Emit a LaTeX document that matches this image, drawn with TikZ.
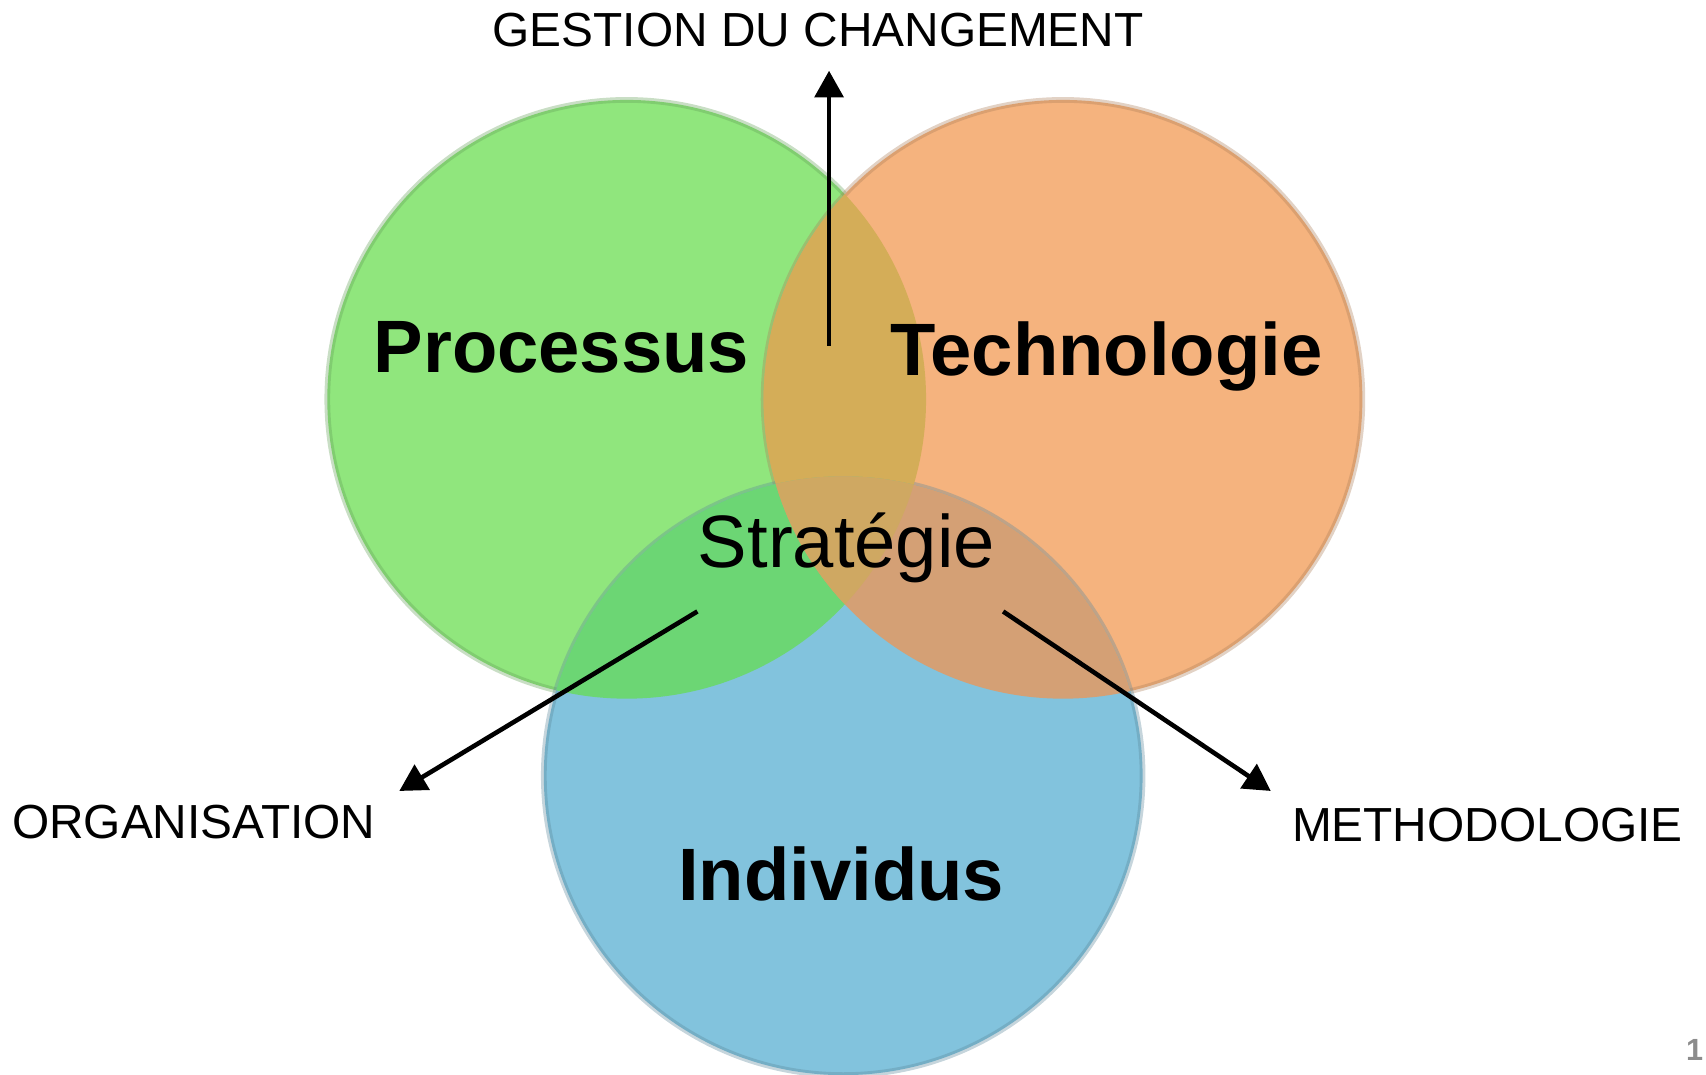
\documentclass[tikz,border=0pt]{standalone}
\usepackage{fontspec}
\setmainfont{Liberation Sans}
\usetikzlibrary{arrows.meta}

\definecolor{procgreen}{HTML}{90E67D}
\definecolor{techorange}{HTML}{F5B37E}
\definecolor{indblue}{HTML}{82C3DD}
\definecolor{gtmix}{HTML}{D4AD58}
\definecolor{gimix}{HTML}{6CD674}
\definecolor{timix}{HTML}{D4A075}
\definecolor{allmix}{HTML}{CFA862}

\begin{document}
\begin{tikzpicture}[x=0.01cm,y=-0.01cm,
	disc/.style={circle,minimum size=5.5cm,inner sep=0pt,line width=1.5pt,draw opacity=0.35},
	bigword/.style={anchor=base,font=\fontsize{19.4}{23}\selectfont\bfseries},
	midword/.style={anchor=base,font=\fontsize{19.4}{23}\selectfont},
	smallword/.style={anchor=base,font=\fontsize{12.5}{15}\selectfont},
	link/.style={line width=1.2pt,-{Triangle[width=7.5pt,length=7pt]}}]
\useasboundingbox (0,0) rectangle (1568,988);

	\node [disc,fill=procgreen,draw=procgreen!70!black] (P) at (576,367) {};
	\node [disc,fill=techorange,draw=techorange!70!black] (T) at (977,367) {};
	\node [disc,fill=indblue,draw=indblue!70!black] (I) at (775,713) {};

% overlaps
\begin{scope}
	\clip (P.center) circle (2.75cm);
	\fill [gtmix] (T.center) circle (2.75cm);
	\fill [gimix] (I.center) circle (2.75cm);
\end{scope}
\begin{scope}
	\clip (T.center) circle (2.75cm);
	\fill [timix] (I.center) circle (2.75cm);
	\clip (I.center) circle (2.75cm);
	\fill [allmix] (P.center) circle (2.75cm);
\end{scope}

	\node [bigword] (Proc) at (516,342) {Processus};
	\node [bigword] (Tech) at (1017,345) {Technologie};
	\node [bigword] (Indiv) at (773,828) {Individus};
	\node [midword] (Strat) at (778,522) {Stratégie};

	\node [smallword] (GC) at (752,43) {GESTION DU CHANGEMENT};
	\node [smallword] (Org) at (178,771) {ORGANISATION};
	\node [smallword] (Meth) at (1367,773) {METHODOLOGIE};
	\node [anchor=base east,inner sep=0pt,text=black!45,font=\fontsize{8}{10}\selectfont\bfseries] (pg) at (1566,975) {1};

\coordinate (gc0) at (762,318);
\coordinate (gc1) at (762,65);
\coordinate (org0) at (641,562);
\coordinate (org1) at (367,727);
\coordinate (meth0) at (922,562);
\coordinate (meth1) at (1168,727);

\draw [link] (gc0) -- (gc1);
\draw [link] (org0) -- (org1);
\draw [link] (meth0) -- (meth1);
\end{tikzpicture}
\end{document}
